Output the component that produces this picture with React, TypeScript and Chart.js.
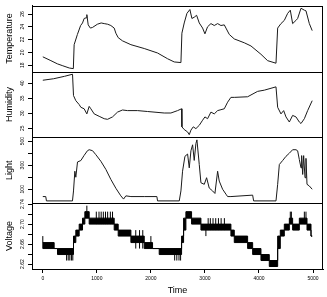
import React, { useEffect, useRef } from 'react';
import { Chart, registerables } from 'chart.js';
Chart.register(...registerables);

const FONT = 'Liberation Sans, Arial, sans-serif';

// ---- Temperature ----
const tempTime = [0, 150, 270, 370, 490, 565, 580, 640, 700, 735, 765, 800, 815, 840, 880, 920, 1010, 1080, 1136, 1200, 1259, 1321, 1352, 1395, 1475, 1630, 1877, 2123, 2309, 2432, 2556, 2574, 2617, 2667, 2722, 2759, 2802, 2846, 2895, 2957, 3000, 3049, 3111, 3173, 3235, 3296, 3358, 3389, 3451, 3543, 3728, 3852, 4037, 4160, 4315, 4346, 4407, 4469, 4531, 4580, 4623, 4685, 4716, 4778, 4840, 4870, 4932, 4985];
const tempValue = [19.3, 18.7, 18.2, 17.9, 17.55, 17.45, 21.2, 22.8, 24.2, 24.6, 25.3, 25.4, 25.9, 24.3, 23.8, 23.9, 24.4, 24.6, 24.5, 24.4, 24.2, 23.8, 23.0, 22.3, 21.8, 21.2, 20.6, 19.9, 19.0, 18.5, 18.4, 23.0, 24.6, 26.1, 26.7, 25.3, 25.5, 25.8, 24.6, 23.8, 22.9, 24.0, 24.5, 24.2, 24.5, 24.2, 24.3, 23.8, 22.8, 22.1, 21.5, 21.0, 19.7, 18.7, 18.3, 23.8, 24.5, 25.0, 26.1, 26.6, 24.5, 25.0, 25.3, 26.9, 26.6, 26.5, 24.5, 23.4];

// ---- Humidity ----
const humTime = [0, 200, 400, 550, 568, 611, 673, 704, 765, 815, 858, 889, 951, 1043, 1136, 1198, 1290, 1383, 1475, 1568, 1753, 1938, 2247, 2370, 2494, 2568, 2574, 2617, 2679, 2710, 2741, 2784, 2833, 2895, 2957, 3000, 3049, 3111, 3173, 3235, 3296, 3358, 3420, 3481, 3543, 3790, 3975, 4099, 4315, 4346, 4407, 4457, 4500, 4562, 4623, 4685, 4747, 4778, 4840, 4901, 4985];
const humValue = [41.0, 41.5, 42.3, 43.0, 35.9, 34.2, 32.9, 32.0, 31.5, 29.8, 32.3, 31.5, 29.8, 29.0, 28.2, 28.0, 28.8, 30.4, 31.1, 30.9, 30.9, 30.6, 30.1, 30.1, 30.9, 31.5, 25.5, 24.6, 23.8, 22.9, 24.4, 25.5, 24.9, 26.0, 27.7, 28.8, 28.2, 30.4, 29.8, 30.9, 31.2, 31.5, 33.7, 35.3, 35.3, 35.5, 37.3, 37.7, 38.8, 32.0, 29.8, 30.9, 28.8, 27.1, 29.3, 28.8, 27.1, 26.6, 28.2, 30.9, 34.2];

// ---- Light ----
const lightTime = [0, 55, 67, 549, 568, 593, 611, 642, 704, 765, 827, 858, 920, 981, 1074, 1167, 1259, 1352, 1444, 1494, 1537, 1630, 1877, 2111, 2123, 2525, 2556, 2586, 2630, 2679, 2710, 2741, 2772, 2802, 2833, 2852, 2895, 2926, 2988, 3031, 3080, 3142, 3185, 3235, 3265, 3327, 3389, 3420, 3481, 3883, 3901, 4315, 4346, 4377, 4438, 4500, 4562, 4623, 4685, 4716, 4747, 4778, 4790, 4809, 4827, 4852, 4870, 4889, 4932, 4985];
const lightValue = [39, 39, 3, 3, 86, 250, 200, 327, 339, 382, 421, 429, 421, 388, 333, 265, 182, 108, 45, 18, 45, 39, 39, 39, 3, 3, 86, 250, 374, 393, 278, 420, 470, 340, 480, 511, 306, 154, 141, 196, 110, 86, 65, 250, 168, 100, 59, 39, 39, 51, 3, 3, 141, 306, 339, 374, 400, 429, 429, 420, 347, 278, 380, 223, 380, 196, 357, 141, 127, 100];

// ---- Voltage (bands between two quantised levels, step-held from each start time) ----
const voltTime = [0, 210, 272, 568, 611, 673, 735, 778, 858, 1321, 1395, 1630, 1877, 2031, 2154, 2568, 2605, 2648, 2753, 2926, 3481, 3543, 3790, 3883, 4037, 4191, 4346, 4395, 4469, 4562, 4623, 4747, 4889, 4963, 4985];
const voltLow = [2.651, 2.651, 2.639, 2.663, 2.676, 2.688, 2.700, 2.712, 2.700, 2.688, 2.676, 2.663, 2.651, 2.651, 2.639, 2.663, 2.688, 2.712, 2.700, 2.688, 2.676, 2.663, 2.651, 2.639, 2.627, 2.615, 2.651, 2.676, 2.688, 2.700, 2.688, 2.700, 2.688, 2.676, 2.676];
const voltHigh = [2.663, 2.651, 2.651, 2.676, 2.688, 2.700, 2.712, 2.725, 2.712, 2.700, 2.688, 2.676, 2.663, 2.651, 2.651, 2.676, 2.712, 2.725, 2.712, 2.700, 2.688, 2.676, 2.663, 2.651, 2.639, 2.627, 2.676, 2.688, 2.700, 2.712, 2.700, 2.712, 2.700, 2.676, 2.676];
const voltSpikeTime = [0, 440, 470, 500, 530, 555, 815, 990, 1040, 1080, 1120, 1160, 1200, 1250, 1290, 1720, 1790, 1850, 2000, 2440, 2480, 2520, 2550, 3018, 3060, 3100, 3150, 3200, 3250, 3300, 3360, 4580, 4600, 4840, 4870];
const voltSpikeLow = [2.651, 2.627, 2.627, 2.627, 2.627, 2.627, 2.712, 2.700, 2.700, 2.700, 2.700, 2.700, 2.700, 2.700, 2.700, 2.651, 2.651, 2.651, 2.651, 2.627, 2.627, 2.627, 2.627, 2.676, 2.688, 2.688, 2.688, 2.688, 2.688, 2.688, 2.688, 2.700, 2.700, 2.700, 2.700];
const voltSpikeHigh = [2.676, 2.639, 2.639, 2.639, 2.639, 2.639, 2.737, 2.725, 2.725, 2.725, 2.725, 2.725, 2.725, 2.725, 2.725, 2.688, 2.688, 2.688, 2.676, 2.651, 2.651, 2.651, 2.651, 2.700, 2.712, 2.712, 2.712, 2.712, 2.712, 2.712, 2.712, 2.725, 2.725, 2.725, 2.725];

// ---- Axes ----
const timeTicks = [0, 1000, 2000, 3000, 4000, 5000];
const tempTicks = [18, 20, 22, 24, 26];
const tempLabels = ['18', '20', '22', '24', '26'];
const humTicks = [25, 30, 35, 40];
const humLabels = ['25', '30', '35', '40'];
const lightTicks = [100, 200, 300, 400, 500];
const lightLabels = ['100', '', '300', '', '500'];
const voltTicks = [2.62, 2.64, 2.66, 2.68, 2.70, 2.72, 2.74];
const voltLabels = ['2.62', '', '2.66', '', '2.70', '', '2.74'];

export default function App() {
  const ref = useRef<HTMLCanvasElement>(null);
  useEffect(() => {
    if (!ref.current) return;
    const xy = (ts: number[], vs: number[]) => ts.map((t, i) => ({ x: t, y: vs[i] }));
    const spikes: any[] = [];
    voltSpikeTime.forEach((t, i) => {
      spikes.push({ x: t, y: voltSpikeLow[i] }, { x: t, y: voltSpikeHigh[i] }, { x: t, y: null });
    });

    const boxPlugin = {
      id: 'boxes',
      afterDraw(chart: any) {
        const ctx = chart.ctx;
        const a = chart.chartArea;
        ctx.save();
        ctx.strokeStyle = '#000';
        ctx.lineWidth = 1;
        ['yT', 'yH', 'yL', 'yV'].forEach((id) => {
          const s = chart.scales[id];
          const l = Math.round(a.left) + 0.5;
          const t = Math.round(s.top) + 0.5;
          ctx.strokeRect(l, t, Math.round(a.right) - Math.round(a.left) - 1, Math.round(s.bottom) - Math.round(s.top));
        });
        ctx.restore();
      },
    };

    const yAxis = (title: string, min: number, max: number, ticks: number[], labels: string[], pad: number) => ({
      type: 'linear',
      position: 'left',
      stack: 'panels',
      stackWeight: 1,
      min,
      max,
      afterBuildTicks: (s: any) => { s.ticks = ticks.map((v) => ({ value: v })); },
      afterFit: (s: any) => { s.width = 32; },
      ticks: {
        autoSkip: false,
        minRotation: 90,
        maxRotation: 90,
        crossAlign: 'center',
        padding: pad,
        font: { size: 5, family: FONT },
        color: '#000',
        callback: (_v: any, i: number) => labels[i],
      },
      grid: { drawOnChartArea: false, tickLength: 4, color: '#000', tickColor: '#000' },
      border: { display: true, color: '#000' },
      title: { display: true, text: title, font: { size: 9, family: FONT }, color: '#000', padding: { top: 4, bottom: 0 } },
    });

    const lineStyle = { borderColor: '#1a1a1a', borderWidth: 1, pointRadius: 0, tension: 0 };

    const chart = new Chart(ref.current, {
      type: 'line',
      data: {
        datasets: [
          { ...lineStyle, data: xy(tempTime, tempValue), yAxisID: 'yT' },
          { ...lineStyle, data: xy(humTime, humValue), yAxisID: 'yH' },
          { ...lineStyle, data: xy(lightTime, lightValue), yAxisID: 'yL' },
          { ...lineStyle, borderColor: '#000', data: xy(voltTime, voltHigh), yAxisID: 'yV', stepped: 'before', fill: '+1', backgroundColor: '#000' },
          { ...lineStyle, borderColor: '#000', data: xy(voltTime, voltLow), yAxisID: 'yV', stepped: 'before', fill: false },
          { ...lineStyle, borderColor: '#000', data: spikes, yAxisID: 'yV', spanGaps: false, fill: false },
        ],
      },
      options: {
        animation: false,
        responsive: true,
        maintainAspectRatio: false,
        parsing: true,
        layout: { padding: { top: 2, right: 4, left: 0, bottom: 0 } },
        plugins: { legend: { display: false }, tooltip: { enabled: false } },
        scales: {
          x: {
            type: 'linear',
            position: 'bottom',
            min: -200,
            max: 5185,
            afterBuildTicks: (s: any) => { s.ticks = timeTicks.map((v) => ({ value: v })); },
            afterFit: (s: any) => { s.height = 28; },
            ticks: { autoSkip: false, maxRotation: 0, padding: 3, font: { size: 5, family: FONT }, color: '#000', callback: (v: any) => String(v) },
            grid: { drawOnChartArea: false, tickLength: 4, color: '#000', tickColor: '#000' },
            border: { display: true, color: '#000' },
            title: { display: true, text: 'Time', font: { size: 9, family: FONT }, color: '#000', padding: { top: 0, bottom: 1 } },
          },
          yV: yAxis('Voltage', 2.610, 2.742, voltTicks, voltLabels, 0.6),
          yL: yAxis('Light', -16, 532, lightTicks, lightLabels, 1.3),
          yH: yAxis('Humidity', 22.0, 43.9, humTicks, humLabels, 2.7),
          yT: yAxis('Temperature', 17.0, 27.3, tempTicks, tempLabels, 2.7),
        } as any,
      },
      plugins: [boxPlugin],
    } as any);
    return () => chart.destroy();
  }, []);

  return (
    <div style={{ position: 'absolute', left: 0, top: 0, width: 327, height: 297, background: '#fff' }}>
      <canvas ref={ref} />
    </div>
  );
}
